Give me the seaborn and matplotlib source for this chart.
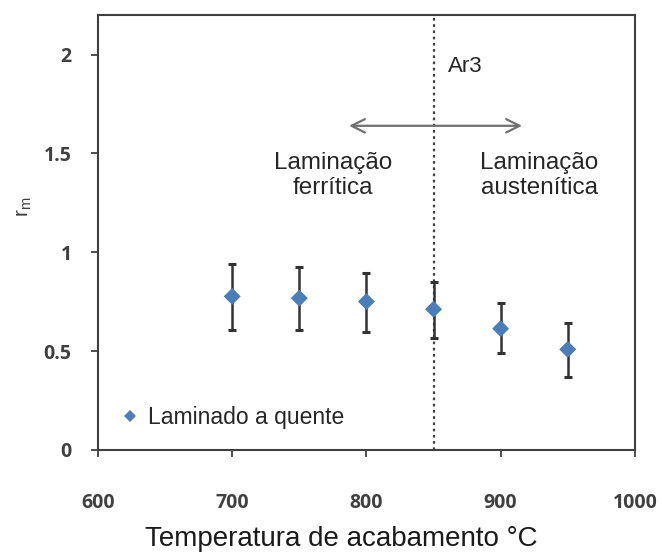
import matplotlib
matplotlib.use("Agg")
import matplotlib.pyplot as plt
import seaborn as sns
import pandas as pd
import numpy as np

temps = [700, 750, 800, 850, 900, 950]
rm = [0.777, 0.768, 0.751, 0.712, 0.614, 0.509]
err_low = [0.170, 0.161, 0.152, 0.144, 0.125, 0.139]
err_high = [0.163, 0.157, 0.143, 0.136, 0.129, 0.131]
series_label = "Laminado a quente"
ar3 = 850

sns.set_theme(style="white")
plt.rcParams['font.family'] = ['Liberation Sans', 'DejaVu Sans']

df = pd.DataFrame({"T": temps, "rm": rm, "s": series_label})

fig = plt.figure(figsize=(6.62, 5.59), dpi=100)
ax = fig.add_axes([0.148, 0.195, 0.811, 0.778])

ax.errorbar(temps, rm, yerr=[err_low, err_high], fmt='none', ecolor='#333333',
            elinewidth=1.8, capsize=3.2, capthick=2.2, zorder=2)
sns.scatterplot(data=df, x="T", y="rm", hue="s", palette=['#4a7ebb'], marker='D',
                s=75, edgecolor='#4a7ebb', linewidth=0, ax=ax, zorder=3)

ax.axvline(ar3, color='#404040', linestyle=(0, (1.2, 1.6)), linewidth=1.6, zorder=1)

ax.annotate('', xy=(785, 1.64), xytext=(918, 1.64),
            arrowprops=dict(arrowstyle='<->', color='#707070', lw=1.6,
                            mutation_scale=24))
ax.text(861, 1.94, 'Ar3', fontsize=16, color='#262626', ha='left', va='center')
ax.text(775, 1.39, 'Laminação\nferrítica', fontsize=17.5, color='#262626',
        ha='center', va='center', linespacing=1.2)
ax.text(929, 1.39, 'Laminação\naustenítica', fontsize=17.5, color='#262626',
        ha='center', va='center', linespacing=1.2)

ax.set_xlim(600, 1000)
ax.set_ylim(0, 2.2)
ax.set_xticks([600, 700, 800, 900, 1000])
ax.set_yticks([0, 0.5, 1, 1.5, 2])
ax.set_yticklabels(['0', '0.5', '1', '1.5', '2'])
for lab in ax.get_xticklabels() + ax.get_yticklabels():
    lab.set_fontweight('bold')
    lab.set_color('#404040')
    lab.set_fontsize(14)
    lab.set_family(['Open Sans', 'DejaVu Sans'])
ax.tick_params(axis='both', direction='out', length=5, width=1.3, color='#404040',
               bottom=True, left=True)
ax.tick_params(axis='x', pad=26)
ax.tick_params(axis='y', pad=14)
for sp in ax.spines.values():
    sp.set_color('#404040')
    sp.set_linewidth(1.5)

ax.set_xlabel('Temperatura de acabamento °C', fontsize=20, color='#1a1a1a')
ax.xaxis.set_label_coords(0.454, -0.175)
ax.set_ylabel('r$_{\\mathregular{m}}$', fontsize=15, color='#404040')
ax.yaxis.set_label_coords(-0.12, 0.56)

leg = ax.legend(loc='lower left', frameon=False, fontsize=16.5, handletextpad=-0.2,
                borderaxespad=0.0, bbox_to_anchor=(0.0, 0.028), markerscale=0.75)

fig.savefig('out.png', dpi=100, facecolor='white')
